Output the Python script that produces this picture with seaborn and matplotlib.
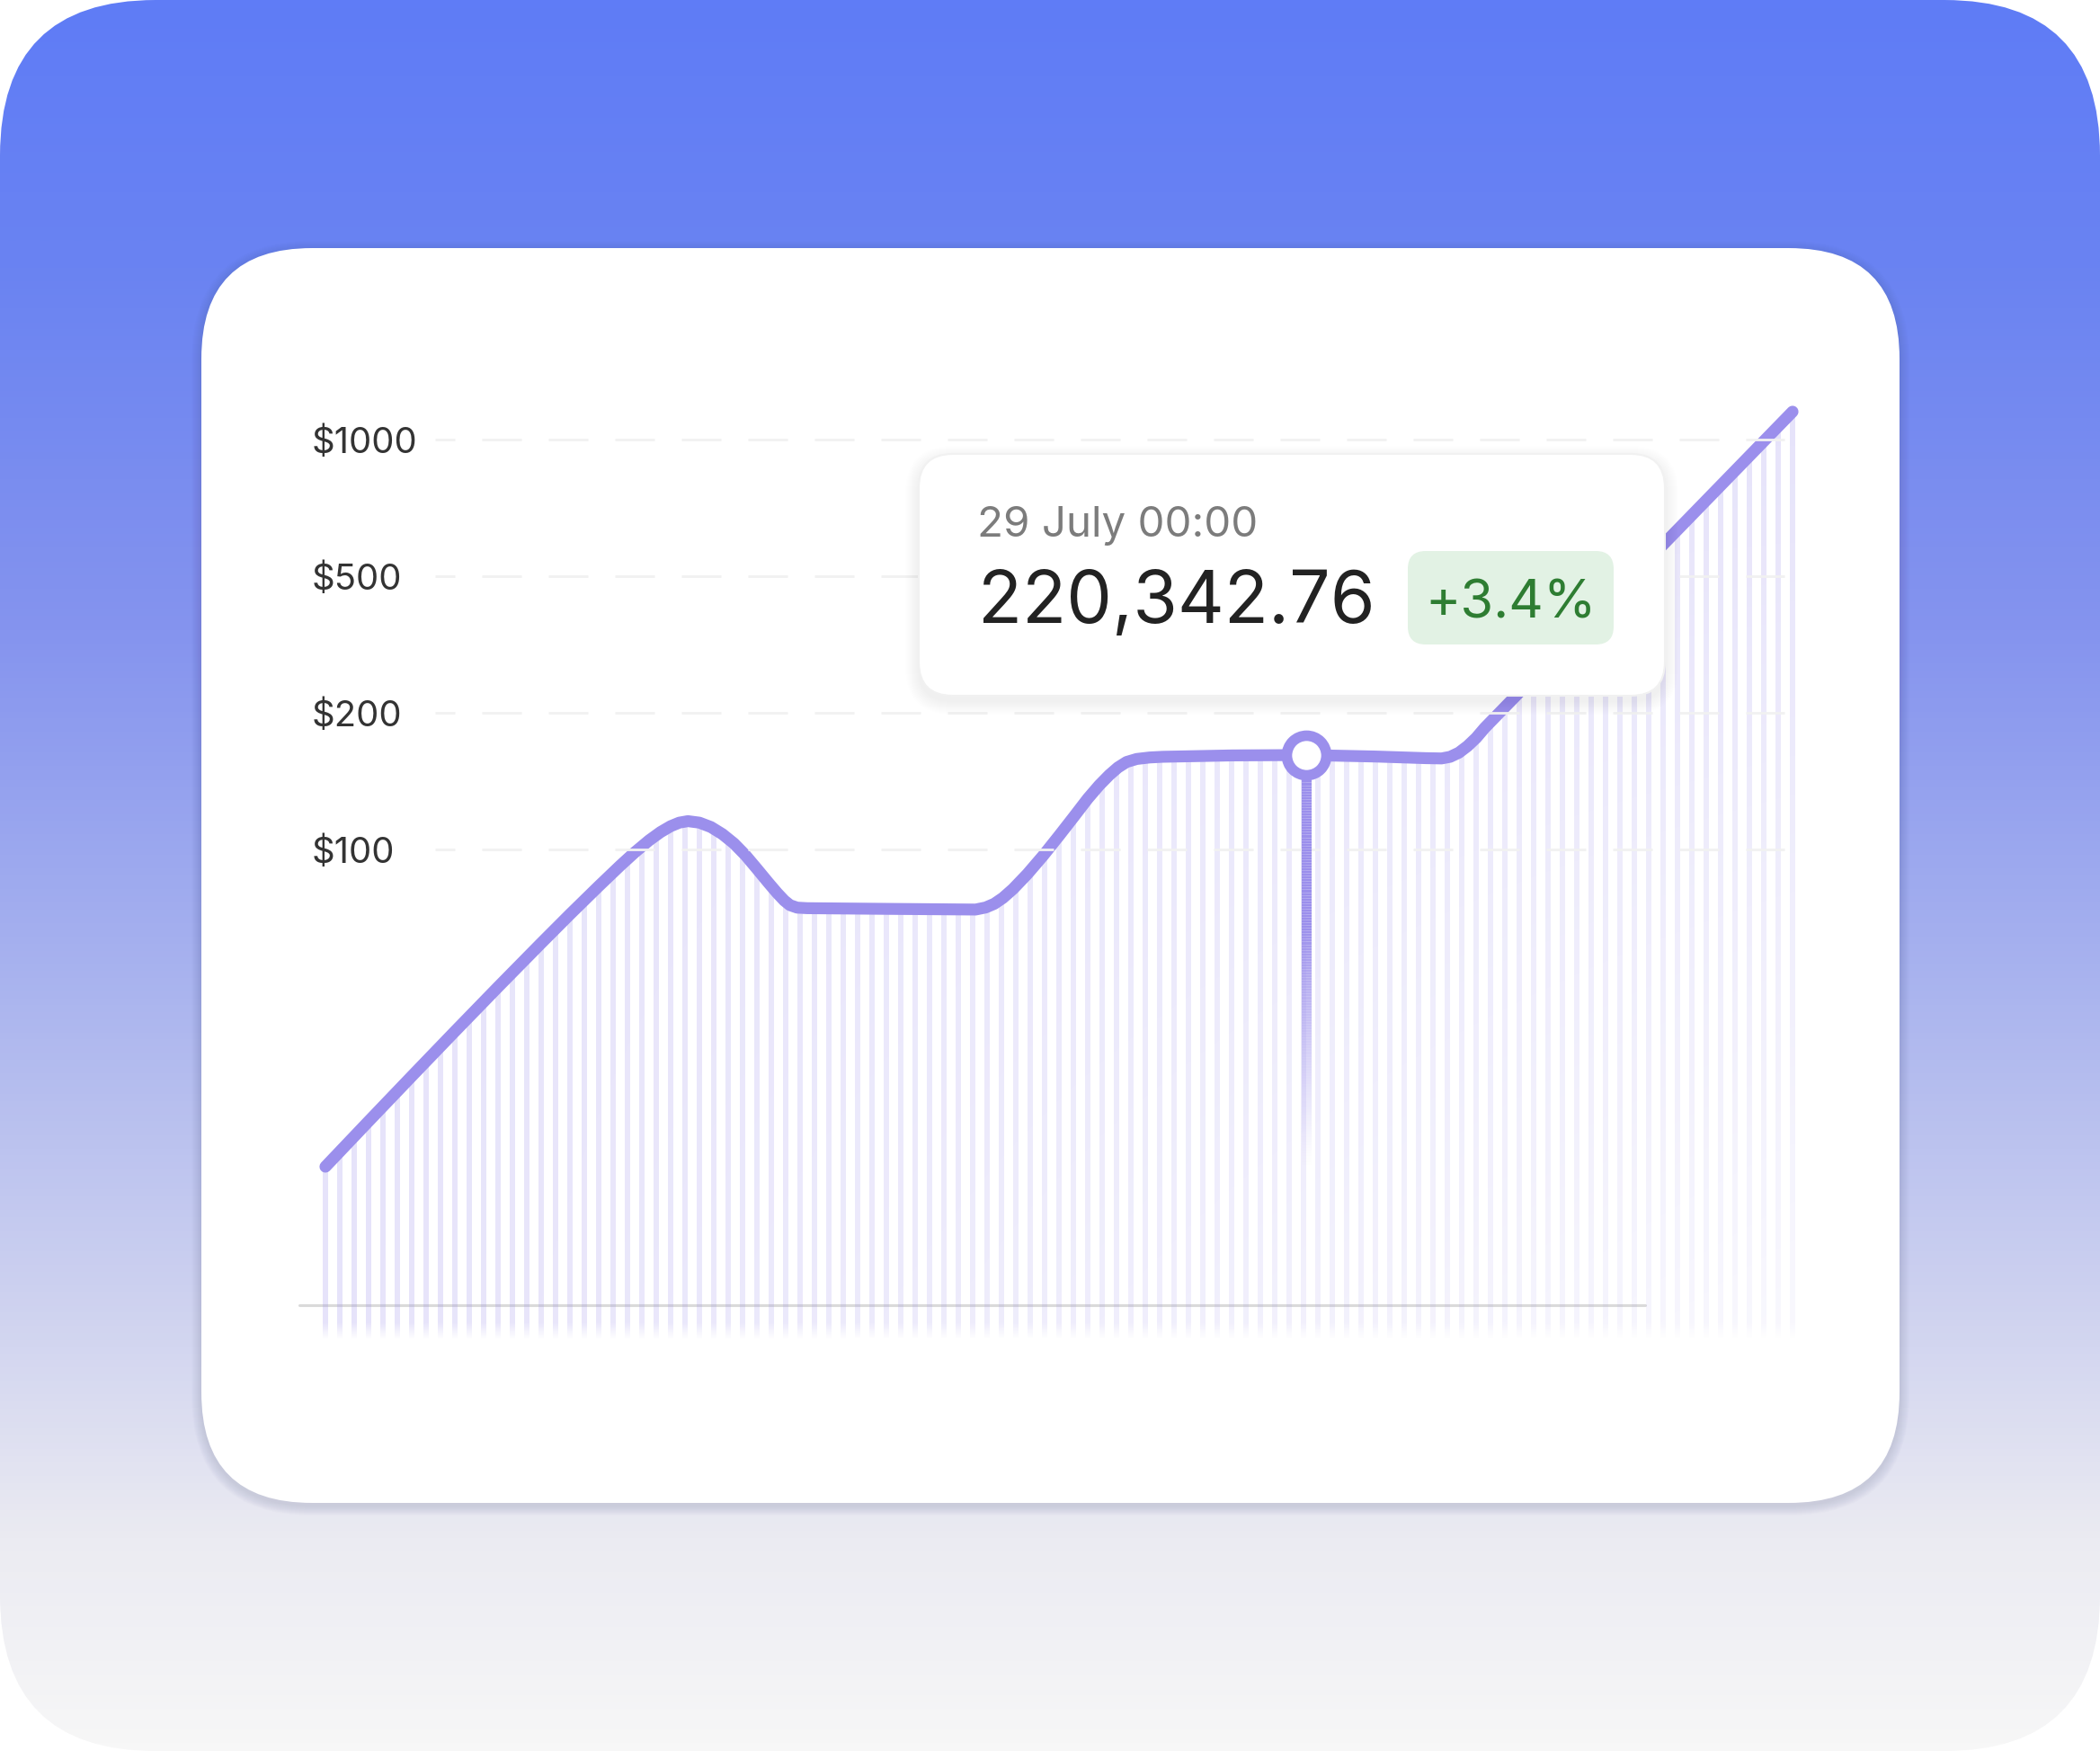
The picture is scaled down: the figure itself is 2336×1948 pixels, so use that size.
import numpy as np
import pandas as pd
import matplotlib
matplotlib.use("Agg")
import matplotlib.pyplot as plt
import seaborn as sns
from matplotlib.patches import FancyBboxPatch, Polygon
from matplotlib.collections import LineCollection
from matplotlib.colors import LinearSegmentedColormap, to_rgb

# --- data ------------------------------------------------------------------
# t: time step (one step per stripe), level: position on the price axis
# (0 = $100, 1 = $200, 2 = $500, 3 = $1000)
t = [0.0, 3.0, 6.0, 9.0, 12.0, 15.0, 17.0, 19.0, 20.5, 21.5,
     22.5, 23.3, 24.0, 24.6, 25.2, 26.0, 26.8, 27.6, 28.4, 29.2,
     30.0, 30.8, 31.4, 31.9, 32.3, 32.8, 33.5, 39.0, 45.2, 45.9,
     46.5, 47.1, 47.8, 48.8, 49.9, 51.0, 52.0, 53.0, 53.8, 54.5,
     55.1, 55.7, 56.4, 57.3, 58.2, 63.0, 68.19, 73.0, 76.5, 77.6,
     78.2, 78.8, 79.4, 80.0, 80.6, 102.0]
level = [-2.322, -1.990, -1.660, -1.332, -1.007, -0.686, -0.475, -0.269, -0.118, -0.022,
         0.066, 0.127, 0.170, 0.196, 0.207, 0.196, 0.164, 0.112, 0.044, -0.042,
         -0.142, -0.244, -0.318, -0.374, -0.408, -0.426, -0.430, -0.435, -0.440, -0.425,
         -0.398, -0.355, -0.290, -0.180, -0.045, 0.100, 0.235, 0.372, 0.470, 0.545,
         0.600, 0.640, 0.662, 0.673, 0.678, 0.688, 0.691, 0.680, 0.668, 0.666,
         0.678, 0.708, 0.756, 0.816, 0.890, 3.204]

tick_levels = [0, 1, 2, 3]
tick_labels = ["\\$100", "\\$200", "\\$500", "\\$1000"]

marker_t = 68.19
marker_level = 0.691
tooltip_date = "29 July 00:00"
tooltip_value = "220,342.76"
tooltip_change = "+3.4%"

# --- styling ----------------------------------------------------------------
W, H = 2336, 1948
LINE = "#9b8fec"
BASELINE_Y = -3.336
STRIPE_BOTTOM = -3.586
STRIPE_TOP = 3.3

sns.set_theme(style="white")
plt.rcParams["font.family"] = ["Inter", "DejaVu Sans"]
plt.rcParams["lines.scale_dashes"] = False

fig = plt.figure(figsize=(W / 100, H / 100), dpi=100, facecolor="white")

# background + card, in pixel units
bg = fig.add_axes([0, 0, 1, 1], zorder=-2)
bg.set_xlim(0, W)
bg.set_ylim(H, 0)
bg.axis("off")

stops = [(0.0, "#5f7cf6"), (0.15, "#6a83f2"), (0.36, "#8594ee"), (0.54, "#a5b0ee"),
         (0.77, "#d3d6f0"), (0.88, "#ebebf2"), (1.0, "#f7f7f7")]
grad = np.linspace(0, 1, 600)[:, None]
im = bg.imshow(grad, cmap=LinearSegmentedColormap.from_list("bg", stops),
               extent=(0, W, H, 0), aspect="auto", interpolation="bilinear")
outer = FancyBboxPatch((0, 0), W, H, boxstyle="round,pad=0,rounding_size=173",
                       fc="none", ec="none")
bg.add_patch(outer)
im.set_clip_path(outer)

cx0, cy0, cx1, cy1, cr = 224, 276, 2113, 1672, 123
for k in range(1, 12):
    bg.add_patch(FancyBboxPatch(
        (cx0 - k, cy0 - k + 3), cx1 - cx0 + 2 * k, cy1 - cy0 + 2 * k,
        boxstyle=f"round,pad=0,rounding_size={cr + k}",
        fc="#2a2f6a", ec="none", alpha=0.01))
bg.add_patch(FancyBboxPatch((cx0, cy0), cx1 - cx0, cy1 - cy0,
                            boxstyle=f"round,pad=0,rounding_size={cr}",
                            fc="white", ec="none"))

# --- chart axes ---------------------------------------------------------------
ax = fig.add_axes([330 / W, 1 - 1522.6 / H, 1728 / W, (1522.6 - 397.8) / H], zorder=1)
ax.set_facecolor("none")

# stripes under the curve, fading to the lower right
x_lo, x_hi = -0.5, 102.5
nx = int(round((x_hi - x_lo) * 16))
ny = int(round((STRIPE_TOP - STRIPE_BOTTOM) * 152))
xc = x_lo + (np.arange(nx) + 0.5) / 16
yc = STRIPE_TOP - (np.arange(ny) + 0.5) / 152
on = (np.abs(xc - np.round(xc)) <= 2.5 / 16) & (np.round(xc) >= 0) & (np.round(xc) <= t[-1])
fx = np.clip(xc / t[-1], 0, 1)
fy = np.clip((3.2 - yc) / (3.2 - STRIPE_BOTTOM), 0, 1)
alpha = 0.25 * (1 - 0.75 * fy[:, None] * fx[None, :]) * on[None, :]
alpha *= np.clip((yc - STRIPE_BOTTOM) / 0.12, 0, 1)[:, None]
rgba = np.zeros((ny, nx, 4))
rgba[..., :3] = to_rgb(LINE)
rgba[..., 3] = alpha
stripes = ax.imshow(rgba, extent=(x_lo, x_hi, STRIPE_BOTTOM, STRIPE_TOP), origin="upper",
                    aspect="auto", interpolation="nearest", zorder=1)
poly_x = [t[0] - 0.2] + t + [t[-1] + 0.2, t[-1] + 0.2, t[0] - 0.2]
poly_y = [level[0]] + level + [level[-1], STRIPE_BOTTOM, STRIPE_BOTTOM]
area = Polygon(np.column_stack([poly_x, poly_y]), closed=True, fc="none", ec="none")
ax.add_patch(area)
stripes.set_clip_path(area)

ax.plot([-1.8, 91.75], [BASELINE_Y, BASELINE_Y], color="#dadada", lw=2.2, zorder=0.5)

for lv in tick_levels:
    ax.plot([7.625, 101.44], [lv, lv], color="#f1f1f1", lw=2.0,
            linestyle=(15.84, (31.68, 21.6)), zorder=3.5)

# drop line from the hovered point
ys = np.linspace(marker_level, -2.3, 150)
segs = [[(marker_t, ys[i]), (marker_t, ys[i + 1])] for i in range(len(ys) - 1)]
fade = np.clip((ys[:-1] + 2.3) / (2.3 - 0.55), 0, 1) ** 1.2
ax.add_collection(LineCollection(segs, colors=[(*to_rgb(LINE), a) for a in fade],
                                 linewidths=8.0, zorder=3.6, capstyle="butt"))

df = pd.DataFrame({"t": t, "level": level})
sns.lineplot(data=df, x="t", y="level", ax=ax, color=LINE, sort=False, zorder=3)
curve = ax.lines[-1]
curve.set_linewidth(9.5)
curve.set_solid_capstyle("round")
curve.set_solid_joinstyle("round")

ax.plot([marker_t], [marker_level], "o", ms=31.7, mfc="white", mec=LINE, mew=8.4, zorder=4)

ax.set_xlim(-2, 106)
ax.set_ylim(-3.8, 3.6)
ax.set_xticks([])
ax.set_yticks(tick_levels, tick_labels)
ax.tick_params(axis="y", length=0, pad=-12.24, labelsize=28.8, labelcolor="#333333")
for lab in ax.get_yticklabels():
    lab.set_horizontalalignment("left")
ax.set_xlabel("")
ax.set_ylabel("")
sns.despine(ax=ax, left=True, bottom=True)

# --- tooltip ----------------------------------------------------------------
ov = fig.add_axes([0, 0, 1, 1], zorder=5)
ov.set_xlim(0, W)
ov.set_ylim(H, 0)
ov.axis("off")

bx0, by0, bx1, by1 = 1022, 505, 1852, 774
for k in range(1, 16):
    ov.add_patch(FancyBboxPatch((bx0 - k, by0 - k + 6), bx1 - bx0 + 2 * k, by1 - by0 + 2 * k,
                                boxstyle=f"round,pad=0,rounding_size={38 + k}",
                                fc="#000000", ec="none", alpha=0.004))
ov.add_patch(FancyBboxPatch((bx0, by0), bx1 - bx0, by1 - by0,
                            boxstyle="round,pad=0,rounding_size=38",
                            fc="white", ec="#f1f1f1", lw=1.5))
ov.add_patch(FancyBboxPatch((1566, 613), 229, 104, boxstyle="round,pad=0,rounding_size=20",
                            fc="#e2f2e4", ec="none"))

ov.text(1087, 597, tooltip_date, fontsize=34.2, color="#7c7c7c", ha="left", va="baseline")
ov.text(1088, 693, tooltip_value, fontsize=58, color="#222222",
        ha="left", va="baseline")
ov.text(1681, 687, tooltip_change, fontsize=43, color="#2e7d32", ha="center", va="baseline")

fig.savefig("out.png", dpi=100)
